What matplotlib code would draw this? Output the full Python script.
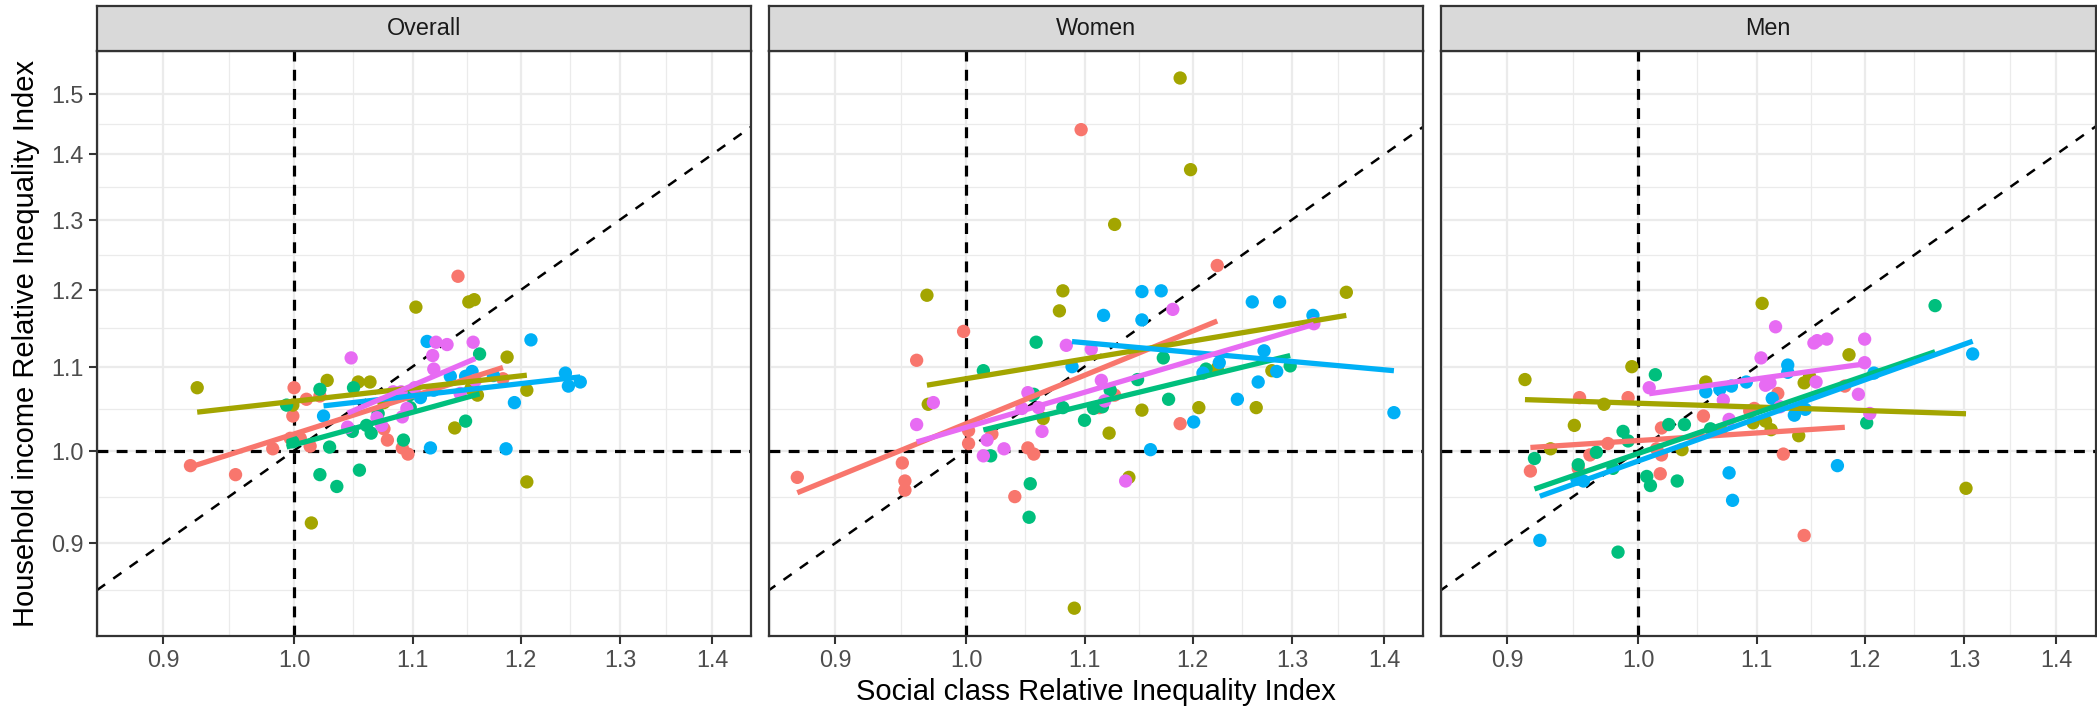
import matplotlib
matplotlib.use("Agg")
import matplotlib.pyplot as plt
import numpy as np
from matplotlib.ticker import FixedLocator, NullFormatter, FuncFormatter

plt.rcParams['font.family'] = ['Liberation Sans', 'DejaVu Sans']

panels = ["Overall", "Women", "Men"]
group_colors = ["#F8766D", "#A3A500", "#00BF7D", "#00B0F6", "#E76BF3"]
major_ticks = [0.9, 1.0, 1.1, 1.2, 1.3, 1.4, 1.5]

# --- Overall ---
ov_red_x = [0.920, 0.954, 0.983, 0.997, 1.005, 1.013, 0.999, 1.000, 1.010, 1.021, 1.075, 1.078, 1.091, 1.096, 1.141, 1.183]
ov_red_y = [0.983, 0.973, 1.002, 1.014, 1.014, 1.005, 1.040, 1.074, 1.060, 1.064, 1.025, 1.012, 1.003, 0.996, 1.219, 1.085]
ov_olive_x = [0.925, 0.999, 1.014, 1.027, 1.053, 1.063, 1.075, 1.103, 1.138, 1.151, 1.156, 1.153, 1.159, 1.187, 1.206, 1.206]
ov_olive_y = [1.074, 1.053, 0.921, 1.083, 1.081, 1.081, 1.056, 1.177, 1.026, 1.184, 1.187, 1.073, 1.065, 1.112, 1.071, 0.965]
ov_green_x = [0.994, 0.999, 1.021, 1.029, 1.021, 1.035, 1.054, 1.049, 1.060, 1.048, 1.064, 1.070, 1.092, 1.098, 1.097, 1.148, 1.161]
ov_green_y = [1.053, 1.010, 1.072, 1.004, 0.973, 0.960, 0.978, 1.074, 1.029, 1.022, 1.020, 1.043, 1.012, 1.050, 1.065, 1.034, 1.116]
ov_blue_x = [1.024, 1.113, 1.210, 1.134, 1.148, 1.154, 1.174, 1.244, 1.247, 1.259, 1.194, 1.116, 1.186, 1.107, 1.119]
ov_blue_y = [1.040, 1.132, 1.134, 1.088, 1.088, 1.094, 1.089, 1.092, 1.076, 1.081, 1.056, 1.003, 1.002, 1.062, 1.071]
ov_pink_x = [1.044, 1.047, 1.069, 1.073, 1.083, 1.090, 1.091, 1.095, 1.102, 1.118, 1.119, 1.121, 1.131, 1.143, 1.155, 1.157]
ov_pink_y = [1.027, 1.111, 1.038, 1.029, 1.069, 1.069, 1.039, 1.049, 1.074, 1.114, 1.097, 1.131, 1.128, 1.067, 1.131, 1.083]

# --- Women ---
wo_red_x = [0.873, 0.950, 0.952, 0.952, 0.961, 0.998, 1.002, 1.002, 1.021, 1.040, 1.051, 1.056, 1.097, 1.113, 1.127, 1.188, 1.224]
wo_red_y = [0.970, 0.986, 0.966, 0.956, 1.108, 1.145, 1.023, 1.008, 1.019, 0.949, 1.003, 0.996, 1.440, 1.050, 1.065, 1.031, 1.234]
wo_olive_x = [0.969, 0.970, 1.064, 1.078, 1.081, 1.091, 1.122, 1.127, 1.140, 1.152, 1.188, 1.198, 1.206, 1.224, 1.263, 1.279, 1.358]
wo_olive_y = [1.193, 1.054, 1.037, 1.172, 1.199, 0.836, 1.020, 1.293, 0.970, 1.047, 1.527, 1.376, 1.050, 1.098, 1.050, 1.095, 1.197]
wo_green_x = [1.014, 1.020, 1.052, 1.053, 1.054, 1.056, 1.058, 1.081, 1.100, 1.108, 1.116, 1.123, 1.148, 1.172, 1.177, 1.213, 1.298]
wo_green_y = [1.095, 0.994, 0.927, 0.963, 1.065, 1.066, 1.131, 1.050, 1.035, 1.049, 1.051, 1.071, 1.084, 1.111, 1.060, 1.097, 1.101]
wo_blue_x = [1.089, 1.117, 1.152, 1.152, 1.160, 1.170, 1.201, 1.210, 1.226, 1.244, 1.259, 1.265, 1.271, 1.284, 1.287, 1.322, 1.411]
wo_blue_y = [1.100, 1.166, 1.198, 1.160, 1.001, 1.199, 1.033, 1.092, 1.105, 1.060, 1.184, 1.081, 1.120, 1.094, 1.184, 1.166, 1.044]
wo_pink_x = [0.961, 0.974, 1.014, 1.017, 1.031, 1.046, 1.051, 1.060, 1.063, 1.084, 1.106, 1.115, 1.118, 1.137, 1.181, 1.323]
wo_pink_y = [1.030, 1.056, 0.994, 1.012, 1.002, 1.049, 1.068, 1.050, 1.022, 1.127, 1.122, 1.083, 1.058, 0.966, 1.174, 1.155]

# --- Men ---
me_red_x = [0.917, 0.953, 0.954, 0.962, 0.976, 0.992, 1.015, 1.019, 1.019, 1.018, 1.054, 1.094, 1.098, 1.119, 1.124, 1.143, 1.181]
me_red_y = [0.977, 0.980, 1.062, 0.995, 1.008, 1.062, 1.002, 1.026, 0.995, 0.974, 1.040, 1.046, 1.049, 1.067, 0.996, 0.908, 1.076]
me_olive_x = [0.913, 0.932, 0.950, 0.973, 0.995, 1.036, 1.056, 1.069, 1.097, 1.105, 1.108, 1.113, 1.138, 1.143, 1.148, 1.185, 1.302]
me_olive_y = [1.084, 1.002, 1.029, 1.054, 1.100, 1.001, 1.081, 1.024, 1.032, 1.182, 1.034, 1.024, 1.017, 1.080, 1.088, 1.115, 0.958]
me_green_x = [0.920, 0.953, 0.967, 0.980, 0.984, 0.988, 0.992, 1.007, 1.010, 1.014, 1.025, 1.032, 1.038, 1.060, 1.202, 1.270]
me_green_y = [0.991, 0.984, 0.998, 0.980, 0.891, 1.022, 1.011, 0.971, 0.961, 1.090, 1.030, 0.966, 1.030, 1.025, 1.032, 1.179]
me_blue_x = [0.924, 0.952, 0.957, 1.056, 1.068, 1.076, 1.078, 1.079, 1.091, 1.114, 1.128, 1.128, 1.134, 1.144, 1.174, 1.209, 1.309]
me_blue_y = [0.903, 0.968, 0.966, 1.069, 1.072, 0.975, 1.076, 0.945, 1.081, 1.061, 1.102, 1.093, 1.041, 1.048, 0.983, 1.092, 1.116]
me_pink_x = [1.009, 1.071, 1.076, 1.104, 1.108, 1.112, 1.117, 1.121, 1.152, 1.155, 1.164, 1.154, 1.194, 1.200, 1.200, 1.205]
me_pink_y = [1.074, 1.059, 1.036, 1.111, 1.077, 1.080, 1.151, 1.051, 1.130, 1.133, 1.135, 1.081, 1.066, 1.135, 1.105, 1.043]

panel_data = {
    "Overall": [(ov_red_x, ov_red_y), (ov_olive_x, ov_olive_y), (ov_green_x, ov_green_y),
                (ov_blue_x, ov_blue_y), (ov_pink_x, ov_pink_y)],
    "Women": [(wo_red_x, wo_red_y), (wo_olive_x, wo_olive_y), (wo_green_x, wo_green_y),
              (wo_blue_x, wo_blue_y), (wo_pink_x, wo_pink_y)],
    "Men": [(me_red_x, me_red_y), (me_olive_x, me_olive_y), (me_green_x, me_green_y),
            (me_blue_x, me_blue_y), (me_pink_x, me_pink_y)],
}

W, H = 2097, 706
fig = plt.figure(figsize=(W / 100, H / 100), dpi=100)


def px_rect(left, top, width, height):
    return [left / W, 1 - (top + height) / H, width / W, height / H]


def minor_between(ticks):
    lt = np.log(ticks)
    mids = list(np.exp((lt[:-1] + lt[1:]) / 2))
    mids.insert(0, np.exp(lt[0] - (lt[1] - lt[0]) / 2))
    return mids


panel_lefts = [96.5, 768.5, 1440.5]
panel_w, panel_top, panel_h = 655, 51, 585
xlim = (0.853, 1.445)
ylim = (0.810, 1.5746)
border = "#333333"

for i, (name, left) in enumerate(zip(panels, panel_lefts)):
    ax = fig.add_axes(px_rect(left, panel_top, panel_w, panel_h))
    ax.set_xscale("log")
    ax.set_yscale("log")
    ax.set_xlim(*xlim)
    ax.set_ylim(*ylim)
    ax.set_facecolor("white")

    for axis in (ax.xaxis, ax.yaxis):
        axis.set_major_locator(FixedLocator(major_ticks))
        axis.set_minor_locator(FixedLocator(minor_between(major_ticks)))
        axis.set_major_formatter(FuncFormatter(lambda v, p: f"{v:.1f}"))
        axis.set_minor_formatter(NullFormatter())

    ax.grid(which="major", color="#EBEBEB", lw=1.6)
    ax.grid(which="minor", color="#EBEBEB", lw=0.9)
    ax.set_axisbelow(True)
    ax.tick_params(which="minor", length=0)
    ax.tick_params(which="major", length=5.8, width=1.5, color=border,
                   labelsize=16.8, labelcolor="#4D4D4D", pad=3.5)
    if i > 0:
        ax.tick_params(axis="y", which="both", left=False, labelleft=False)
    for sp in ax.spines.values():
        sp.set_color(border)
        sp.set_linewidth(1.6)
        sp.set_zorder(6)

    # reference lines
    ax.axhline(1.0, color="black", lw=2.3, ls=(0, (3.4, 2.6)), zorder=2)
    ax.axvline(1.0, color="black", lw=2.3, ls=(0, (3.4, 2.6)), zorder=2)
    ax.plot([0.7, 1.7], [0.7, 1.7], color="black", lw=1.8, ls=(0, (4, 4)), zorder=2)

    groups = panel_data[name]
    for (gx, gy), col in zip(groups, group_colors):
        ax.scatter(gx, gy, s=92, color=col, edgecolors="none", zorder=3)
    for (gx, gy), col in zip(groups, group_colors):
        lx, ly = np.log(gx), np.log(gy)
        slope, icpt = np.polyfit(lx, ly, 1)
        xs = np.linspace(lx.min(), lx.max(), 50)
        ax.plot(np.exp(xs), np.exp(icpt + slope * xs), color=col, lw=3.8,
                solid_capstyle="butt", zorder=4)

    # facet strip
    sax = fig.add_axes(px_rect(left, 6, panel_w, panel_top - 6))
    sax.set_facecolor("#D9D9D9")
    sax.set_xticks([])
    sax.set_yticks([])
    for sp in sax.spines.values():
        sp.set_color(border)
        sp.set_linewidth(1.6)
    sax.text(0.5, 0.5, name, ha="center", va="center", fontsize=16.8,
             color="#1A1A1A", transform=sax.transAxes)

fig.text(1096 / W, 1 - 700 / H, "Social class Relative Inequality Index",
         ha="center", va="baseline", fontsize=21)
fig.text(26 / W, 1 - 343.5 / H, "Household income Relative Inequality Index",
         ha="center", va="center", rotation=90, fontsize=21)

fig.savefig("out.png", dpi=100)
